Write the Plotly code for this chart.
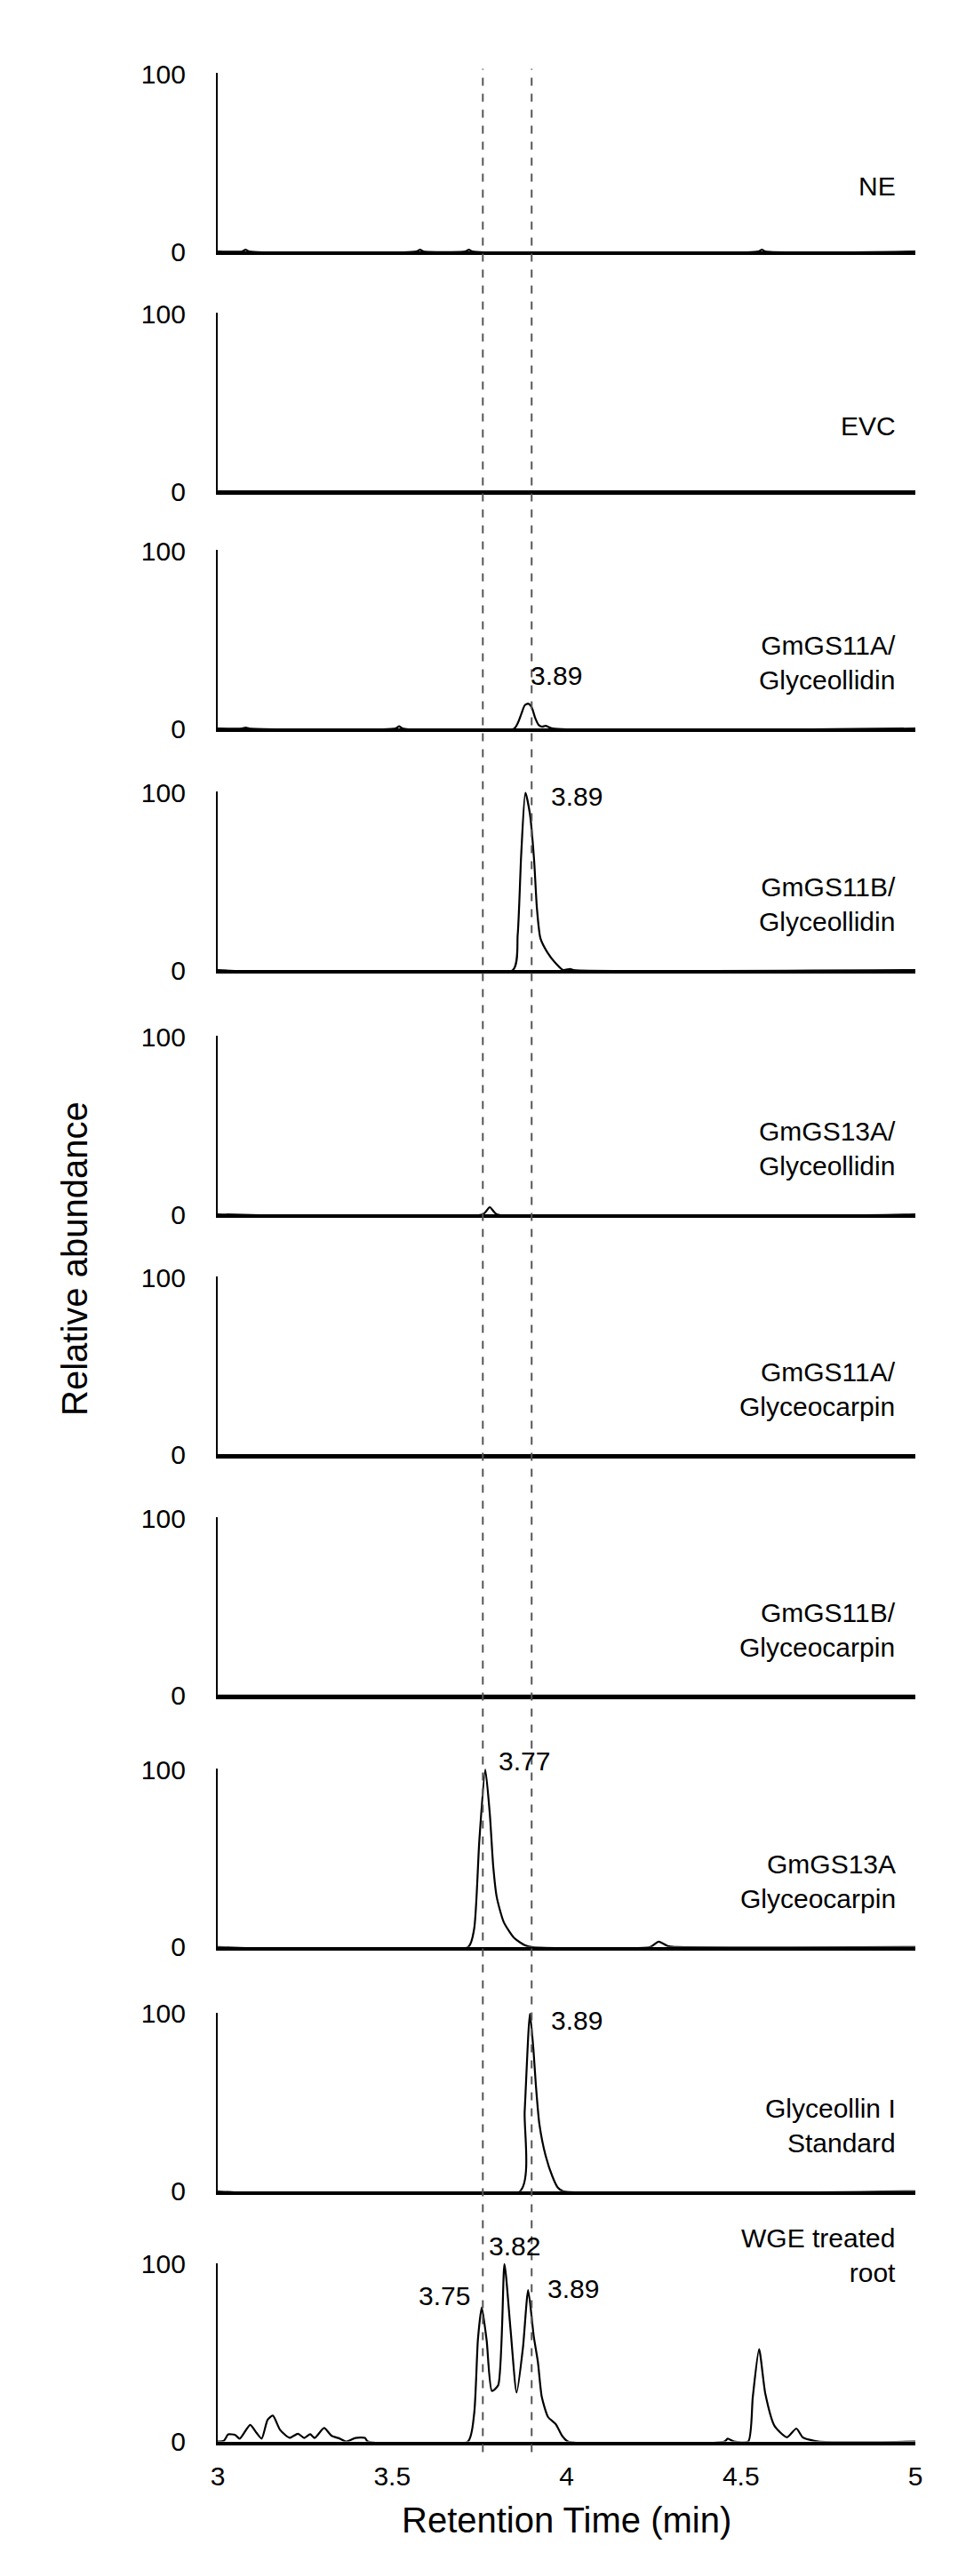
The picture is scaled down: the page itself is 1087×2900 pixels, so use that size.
import plotly.graph_objects as go

# sample labels (one per panel, top to bottom)
labels = ["NE", "EVC", "GmGS11A/<br>Glyceollidin", "GmGS11B/<br>Glyceollidin",
          "GmGS13A/<br>Glyceollidin", "GmGS11A/<br>Glyceocarpin", "GmGS11B/<br>Glyceocarpin",
          "GmGS13A<br>Glyceocarpin", "Glyceollin I<br>Standard", "WGE treated<br>root"]

# chromatogram traces (retention time, relative abundance)
ne_x = [3.0, 3.07, 3.08, 3.09, 3.57, 3.58, 3.59, 3.71, 3.72, 3.73, 4.55, 4.56, 4.57, 5.0]
ne_y = [0, 0, 1, 0, 0, 1, 0, 0, 1, 0, 0, 1, 0, 0]
evc_x = [3.0, 5.0]
evc_y = [0, 0]
gs11a_gd_x = [3.0, 3.07, 3.08, 3.09, 3.51, 3.52, 3.53, 3.85, 3.87, 3.88, 3.89, 3.90, 3.91, 3.92, 3.93, 3.94, 3.96, 5.0]
gs11a_gd_y = [0, 0, 0.5, 0, 0, 1.2, 0, 0, 8, 13, 14, 12, 6, 2, 1, 1.5, 0, 0]
gs11b_gd_x = [3.0, 3.846, 3.86, 3.87, 3.882, 3.895, 3.907, 3.915, 3.925, 3.945, 3.968, 3.99, 4.01, 4.02, 5.0]
gs11b_gd_y = [0, 0, 20, 65, 100, 88, 62, 35, 18, 10, 4, 0, 0.6, 0, 0]
gs13a_gd_x = [3.0, 3.76, 3.78, 3.80, 5.0]
gs13a_gd_y = [0, 0, 4, 0, 0]
gs11a_gc_x = [3.0, 5.0]
gs11a_gc_y = [0, 0]
gs11b_gc_x = [3.0, 5.0]
gs11b_gc_y = [0, 0]
gs13a_gc_x = [3.0, 3.718, 3.735, 3.75, 3.767, 3.78, 3.79, 3.80, 3.82, 3.85, 3.88, 3.90, 4.24, 4.264, 4.29, 4.31, 5.0]
gs13a_gc_y = [0, 0, 10, 60, 100, 75, 45, 28, 14, 5, 1, 0, 0, 3, 0.5, 0, 0]
std_x = [3.0, 3.867, 3.88, 3.895, 3.905, 3.912, 3.922, 3.94, 3.96, 3.975, 3.99, 5.0]
std_y = [0, 0, 45, 100, 80, 60, 38, 20, 8, 2, 0, 0]
wge_x = [3.0, 3.018, 3.030, 3.050, 3.063, 3.093, 3.111, 3.126, 3.143, 3.158, 3.179, 3.206, 3.230,
         3.248, 3.265, 3.278, 3.305, 3.326, 3.350, 3.368, 3.395, 3.422, 3.430, 3.717, 3.735, 3.746,
         3.757, 3.771, 3.786, 3.804, 3.822, 3.839, 3.857, 3.875, 3.890, 3.906, 3.918, 3.929, 3.947,
         3.969, 3.987, 4.004, 4.453, 4.462, 4.480, 4.521, 4.534, 4.552, 4.570, 4.596, 4.632, 4.659,
         4.677, 4.722, 5.0]
wge_y = [0, 0.5, 4, 3.7, 1.6, 9.4, 4.9, 1.6, 12.2, 14.6, 6.5, 2.1, 4.4, 2.0, 4.1, 2.0, 7.6, 3.3,
         1.6, 0, 2.0, 2.0, 0, 0, 15.4, 57.7, 75.6, 56.9, 28.5, 31.7, 100, 64.2, 27.6, 52.8, 85.4,
         59.3, 44.7, 25.2, 13.8, 9.8, 3.3, 0, 0, 1.6, 0, 0, 25.2, 52.0, 26.8, 8.9, 2.4, 7.3, 2.4, 0, 0]

traces = [(ne_x, ne_y), (evc_x, evc_y), (gs11a_gd_x, gs11a_gd_y), (gs11b_gd_x, gs11b_gd_y),
          (gs13a_gd_x, gs13a_gd_y), (gs11a_gc_x, gs11a_gc_y), (gs11b_gc_x, gs11b_gc_y),
          (gs13a_gc_x, gs13a_gc_y), (std_x, std_y), (wge_x, wge_y)]

# peak labels: (panel index, x, y, text, extra pixel shift up)
peak_labels = [(2, 3.97, 30, "3.89", 0), (3, 4.03, 98, "3.89", 0), (7, 3.88, 100, "3.77", 10),
               (8, 4.03, 96, "3.89", 0), (9, 3.65, 82, "3.75", 0), (9, 3.85, 100, "3.82", 20),
               (9, 4.02, 86, "3.89", 0)]
ref_times = [3.76, 3.90]

# panel pixel positions (top of 100 line) in a 2900 px tall page
panel_top = [60, 333, 603, 878, 1156, 1430, 1704, 1990, 2268, 2553]
panel_h = 203
H = 2900
FONT = "Liberation Sans, Arial, sans-serif"

fig = go.Figure()
for i, (xs, ys) in enumerate(traces):
    n = "" if i == 0 else str(i + 1)
    fig.add_trace(go.Scatter(x=xs, y=ys, mode="lines", xaxis="x" + n, yaxis="y" + n,
                             line=dict(color="black", width=2.2, shape="spline", smoothing=0.6),
                             showlegend=False, hoverinfo="skip", cliponaxis=False))
    top = panel_top[i]
    dom = [1 - (top + panel_h) / H, 1 - top / H]
    last = i == len(traces) - 1
    fig.layout["xaxis" + n] = dict(domain=[0, 1], range=[3, 5], anchor="y" + n,
                                   showline=True, linecolor="black", linewidth=3.5,
                                   showgrid=False, zeroline=False, ticks="",
                                   showticklabels=last, tickvals=[3, 3.5, 4, 4.5, 5],
                                   ticktext=["3", "3.5", "4", "4.5", "5"], ticklabelstandoff=10,
                                   tickfont=dict(size=30, color="black"))
    fig.layout["yaxis" + n] = dict(domain=dom, range=[0, 100.5], anchor="x" + n,
                                   showline=True, linecolor="black", linewidth=2.2,
                                   showgrid=False, zeroline=False, ticks="",
                                   tickvals=[0, 100], ticktext=["0", "100"], ticklabelstandoff=28,
                                   tickfont=dict(size=30, color="black"))
    fig.add_annotation(x=4.95, y=37 if i < 9 else 100, yshift=0 if i < 9 else 10,
                       xref="x" + n, yref="y" + n,
                       text=labels[i], showarrow=False, xanchor="right", align="right",
                       font=dict(size=30, color="black"))

for p, x, y, t, s in peak_labels:
    n = "" if p == 0 else str(p + 1)
    fig.add_annotation(x=x, y=y, yshift=s, xref="x" + n, yref="y" + n, text=t, showarrow=False,
                       font=dict(size=30, color="black"))

for t in ref_times:
    fig.add_shape(type="line", x0=t, x1=t, xref="x", yref="paper",
                  y0=1 - 2768 / H, y1=1 - 55 / H,
                  line=dict(color="#555555", width=2, dash="dash"))

fig.add_annotation(x=4, y=1 - 2870 / H, xref="x10", yref="paper", text="Retention Time (min)",
                   showarrow=False, font=dict(size=40, color="black"))
fig.add_annotation(x=-0.235, y=1 - 1410 / H, xref="paper", yref="paper",
                   text="Relative abundance", textangle=-90, showarrow=False,
                   font=dict(size=40, color="black"))

fig.update_layout(width=1087, height=H, margin=dict(l=237, r=65, t=0, b=0),
                  plot_bgcolor="white", paper_bgcolor="white",
                  font=dict(family=FONT, color="black"))

fig.write_html("out.html")
